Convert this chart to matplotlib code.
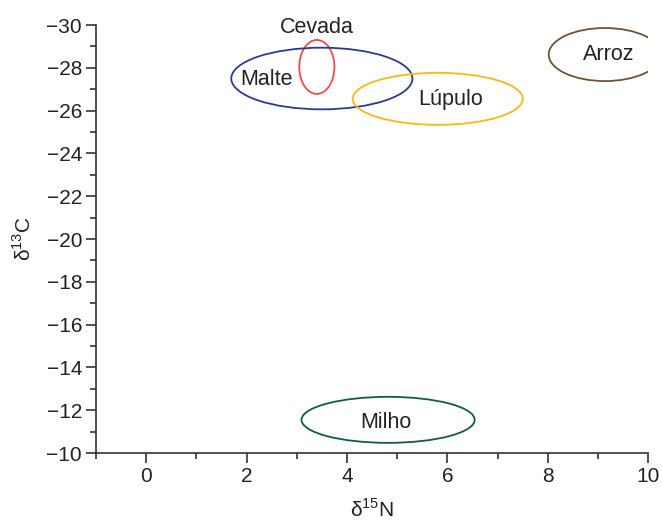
import matplotlib
matplotlib.use("Agg")
import matplotlib.pyplot as plt
from matplotlib.patches import Ellipse
from matplotlib.ticker import MultipleLocator

plt.rcParams['font.family'] = ['Liberation Sans', 'DejaVu Sans']

names = ["Cevada", "Malte", "Lúpulo", "Arroz", "Milho"]
cx = [3.40, 3.50, 5.81, 9.14, 4.82]
cy = [-28.04, -27.50, -26.55, -28.62, -11.55]
widths = [0.70, 3.61, 3.39, 2.24, 3.45]
heights = [2.52, 2.88, 2.43, 2.48, 2.15]
colors = ["#ef4b50", "#2e3a8f", "#fbb719", "#6e5433", "#135a47"]
label_x = [3.39, 2.40, 6.07, 9.22, 4.77]
label_y = [-29.88, -27.45, -26.52, -28.62, -11.43]

fig = plt.figure(figsize=(6.62, 5.21), dpi=100)
ax = fig.add_axes([0.145, 0.1305, 0.834, 0.8215])

for n, x, y, w, h, c, lx, ly in zip(names, cx, cy, widths, heights, colors, label_x, label_y):
    ax.add_patch(Ellipse((x, y), w, h, fill=False, edgecolor=c, lw=1.3))
    ax.text(lx, ly, n, ha='center', va='center', fontsize=15.5, color='#222222')

ax.set_xlim(-1, 10)
ax.set_ylim(-10, -30)
ax.xaxis.set_major_locator(MultipleLocator(2))
ax.xaxis.set_minor_locator(MultipleLocator(1))
ax.yaxis.set_major_locator(MultipleLocator(2))
ax.yaxis.set_minor_locator(MultipleLocator(1))
for s in ['top', 'right']:
    ax.spines[s].set_visible(False)
for s in ['left', 'bottom']:
    ax.spines[s].set_color('#333333')
    ax.spines[s].set_linewidth(1.2)
ax.tick_params(which='major', direction='out', length=7, width=1.2, color='#333333',
               labelsize=15, labelcolor='#222222', pad=3)
ax.tick_params(which='minor', direction='out', length=4.5, width=1.2, color='#333333')
ax.set_xlabel("δ$^{\\mathregular{15}}$N", fontsize=15, color='#222222', labelpad=9)
ax.set_ylabel("δ$^{\\mathregular{13}}$C", fontsize=15, color='#222222', labelpad=8.5)

fig.savefig("out.png", dpi=100)
